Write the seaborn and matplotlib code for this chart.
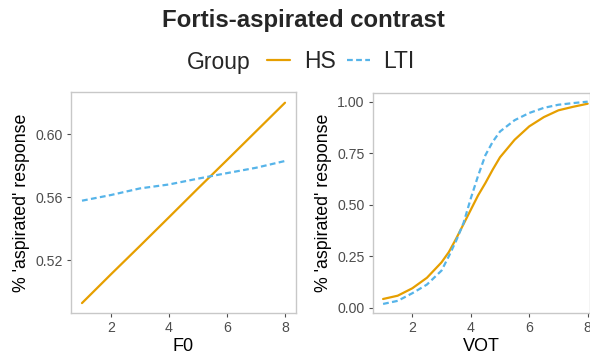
import pandas as pd
import matplotlib
matplotlib.use("Agg")
import matplotlib.pyplot as plt
from matplotlib.lines import Line2D
import seaborn as sns

# ---- data ----
groups = ["HS", "LTI"]
f0_x = [1, 2, 3, 4, 5, 6, 7, 8]
f0_hs = [0.4927, 0.5110, 0.5290, 0.5472, 0.5655, 0.5835, 0.6017, 0.6199]
f0_lti = [0.5577, 0.5613, 0.5655, 0.5680, 0.5717, 0.5752, 0.5786, 0.5829]

vot_x = [1, 1.5, 2, 2.5, 3, 3.25, 3.5, 3.75, 4, 4.25, 4.5, 4.75, 5, 5.5, 6, 6.5, 7, 7.5, 8]
vot_hs = [0.042, 0.058, 0.094, 0.145, 0.220, 0.270, 0.335, 0.405, 0.475, 0.545, 0.605,
          0.670, 0.730, 0.815, 0.880, 0.925, 0.958, 0.975, 0.990]
vot_lti = [0.018, 0.033, 0.070, 0.112, 0.180, 0.250, 0.325, 0.410, 0.530, 0.640, 0.740,
           0.805, 0.855, 0.910, 0.945, 0.970, 0.985, 0.993, 1.000]

palette = {"HS": "#E69F00", "LTI": "#56B4E9"}
dash_pat = (2.6, 1.5)
dashes = {"HS": "", "LTI": dash_pat}

df_f0 = pd.DataFrame({"x": f0_x * 2, "y": f0_hs + f0_lti,
                      "Group": ["HS"] * len(f0_x) + ["LTI"] * len(f0_x)})
df_vot = pd.DataFrame({"x": vot_x * 2, "y": vot_hs + vot_lti,
                       "Group": ["HS"] * len(vot_x) + ["LTI"] * len(vot_x)})

sns.set_style("white")
plt.rcParams["font.family"] = ["Liberation Sans", "DejaVu Sans"]

fig = plt.figure(figsize=(5.9, 3.58), dpi=100)
W, H = 590, 358
ax1 = fig.add_axes([71 / W, 1 - 313 / H, (296 - 71) / W, (313 - 92) / H])
ax2 = fig.add_axes([373 / W, 1 - 313 / H, (589.6 - 373) / W, (313 - 93) / H])

for ax, df in [(ax1, df_f0), (ax2, df_vot)]:
    sns.lineplot(data=df, x="x", y="y", hue="Group", style="Group",
                 palette=palette, dashes=dashes, linewidth=1.6,
                 legend=False, ax=ax, sort=True)
    for s in ax.spines.values():
        s.set_color("#C8C8C8")
        s.set_linewidth(1.0)
    ax.tick_params(axis="both", colors="#4D4D4D", labelsize=10.2,
                   length=3, width=0.8, direction="out", pad=3,
                   left=True, bottom=True)
    for lab in ax.get_xticklabels() + ax.get_yticklabels():
        lab.set_color("#4D4D4D")
    ax.set_ylabel("% 'aspirated' response", fontsize=12.8, color="black", labelpad=4)
    ax.grid(False)

ax1.set_xlim(0.621, 8.379)
ax1.set_ylim(0.4864, 0.6267)
ax1.set_xticks([2, 4, 6, 8])
ax1.set_yticks([0.52, 0.56, 0.60])
ax1.set_yticklabels(["0.52", "0.56", "0.60"])
ax1.set_xlabel("F0", fontsize=13, color="black", labelpad=2)

ax2.set_xlim(0.655, 8.065)
ax2.set_ylim(-0.026, 1.042)
ax2.set_xticks([2, 4, 6, 8])
ax2.set_yticks([0.0, 0.25, 0.5, 0.75, 1.0])
ax2.set_yticklabels(["0.00", "0.25", "0.50", "0.75", "1.00"])
ax2.set_xlabel("VOT", fontsize=13, color="black", labelpad=2)

fig.text(303.5 / W, 1 - 21 / H, "Fortis-aspirated contrast", ha="center", va="center",
         fontsize=17.3, fontweight="bold")

fig.text(187 / W, 1 - 63 / H, "Group", ha="left", va="center", fontsize=16.5)
handles = [Line2D([], [], color=palette["HS"], lw=1.6, linestyle="-"),
           Line2D([], [], color=palette["LTI"], lw=1.6, linestyle=(0, dash_pat))]
fig.legend(handles, groups, ncol=2, frameon=False,
           loc="center left", bbox_to_anchor=(267 / W, 1 - 62 / H),
           fontsize=16.5, handlelength=1.0, columnspacing=0.5,
           handletextpad=0.6, borderpad=0, borderaxespad=0)

fig.savefig("out.png", dpi=100)
